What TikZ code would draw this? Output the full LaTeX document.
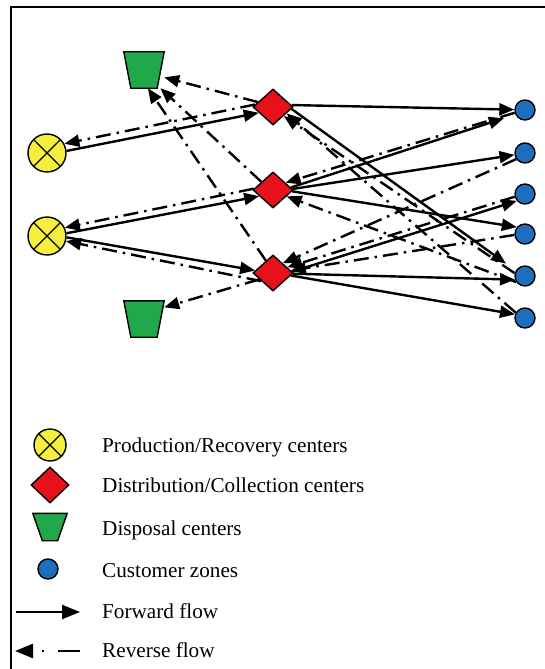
\documentclass[tikz,border=0pt]{standalone}
\usepackage{fontspec}
\setmainfont{Liberation Serif}
\usetikzlibrary{shapes.geometric,arrows.meta,calc}
\definecolor{pyellow}{RGB}{245,238,60}
\definecolor{dred}{RGB}{232,16,26}
\definecolor{tgreen}{RGB}{33,168,74}
\definecolor{cblue}{RGB}{30,110,190}
\newcommand{\trapez}[2]{\draw[line width=1.4pt,fill=tgreen] (#1.north west) -- (#1.north east) -- ($(#1.south east)+(-#2,0)$) -- ($(#1.south west)+(#2,0)$) -- cycle;}
\begin{document}
\begin{tikzpicture}[x=1pt,y=-1pt,
  prod/.style={circle,draw,line width=1.4pt,fill=pyellow,minimum size=38pt,inner sep=0pt,
     path picture={\draw[line width=1.4pt] (path picture bounding box.center) ++(45:30pt) -- ++(225:60pt)
        (path picture bounding box.center) ++(135:30pt) -- ++(315:60pt);}},
  dist/.style={diamond,draw,line width=1.4pt,fill=dred,minimum width=40pt,minimum height=36pt,inner sep=0pt},
  disp/.style={rectangle,minimum width=40pt,minimum height=36pt,inner sep=0pt},
  cust/.style={circle,draw,line width=1.4pt,fill=cblue,minimum size=20pt,inner sep=0pt},
  fwd/.style={line width=2.4pt,-{Triangle[length=15pt,width=12pt]}},
  rev/.style={line width=2.4pt,dash pattern=on 15pt off 6pt on 2.5pt off 6pt,-{Triangle[length=15pt,width=12pt]}},
  lbl/.style={anchor=base west,inner sep=0pt,font=\fontsize{21.2}{25}\selectfont}]
\useasboundingbox (0,0) rectangle (545,669);
\fill[white] (0,0) rectangle (545,669);
\draw[line width=1.6pt] (11,690) -- (11,7) -- (570,7);

% nodes
\node[prod] (P1) at (47,153) {};
\node[prod] (P2) at (47,236) {};
\node[dist] (D1) at (273,107) {};
\node[dist] (D2) at (273,190) {};
\node[dist] (D3) at (273,273) {};
\node[disp] (T1) at (144,70) {};
\node[disp] (T2) at (144,319) {};
\trapez{T1}{7}
\trapez{T2}{7}
\node[cust] (C1) at (525,110) {};
\node[cust] (C2) at (525,153) {};
\node[cust] (C3) at (525,194) {};
\node[cust] (C4) at (525,234) {};
\node[cust] (C5) at (525,276) {};
\node[cust] (C6) at (525,318) {};

% production <-> distribution
\draw[fwd] (P1.6) -- (D1.202);
\draw[rev] (D1.172) -- (P1.28);
\draw[fwd] (P2.8) -- (D2.204);
\draw[rev] (D2.176) -- (P2.25);
\draw[fwd] (P2.-4) -- (D3.172);
\draw[rev] (D3.215) -- (P2.-15);

% collection -> disposal
\draw[rev] (D1.162) -- (T1.-20);
\draw[rev] (D2.145) -- (T1.-48);
\draw[rev] (D3.120) -- (T1.-78);
\draw[rev] (D3.205) -- (T2.30);

% distribution -> customers
\draw[fwd] (D1.6) -- (C1.178);
\draw[fwd,shorten >=12pt] (D1.-6) -- (C5.150);
\draw[fwd,shorten >=12pt] (D2.8) -- (C1.205);
\draw[fwd] (D2.3) -- (C2.190);
\draw[fwd] (D2.-4) -- (C4.140);
\draw[fwd] (D3.4) -- (C3.220);
\draw[fwd] (D3.-2) -- (C5.200);
\draw[fwd] (D3.-8) -- (C6.160);

% customers -> collection
\draw[rev] (C1.195) -- (D2.30);
\draw[rev] (C2.215) -- (D3.45);
\draw[rev] (C3.195) -- (D3.22);
\draw[rev] (C4.185) -- (D3.8);
\draw[rev] (C5.215) -- (D2.-25);
\draw[rev] (C5.165) -- (D1.-40);
\draw[rev] (C6.150) -- (D1.-25);

% legend
\node[prod,minimum size=32pt,path picture={\draw[line width=1.4pt] (path picture bounding box.center) ++(45:25pt) -- ++(225:50pt)
        (path picture bounding box.center) ++(135:25pt) -- ++(315:50pt);}] (LP) at (50,445) {};
\node[dist,minimum width=38pt,minimum height=36pt] (LD) at (50,485) {};
\node[disp,minimum width=34pt,minimum height=27pt] (LT) at (50,527) {};
\trapez{LT}{9.5}
\node[cust] (LC) at (48,569) {};
\coordinate (LFa) at (16,612);
\coordinate (LFb) at (80,612);
\draw[line width=2.4pt,-{Triangle[length=18pt,width=14pt]}] (LFa) -- (LFb);
\coordinate (LRa) at (80,651);
\coordinate (LRb) at (15,651);
\draw[line width=2.4pt,dash pattern=on 22pt off 14pt on 2.5pt off 14pt,-{Triangle[length=18pt,width=14pt]}] (LRa) -- (LRb);

\node[lbl] (t1) at (102,452) {Production/Recovery centers};
\node[lbl] (t2) at (102,492) {Distribution/Collection centers};
\node[lbl] (t3) at (102,535) {Disposal centers};
\node[lbl] (t4) at (102,577) {Customer zones};
\node[lbl] (t5) at (102,618) {Forward flow};
\node[lbl] (t6) at (102,657) {Reverse flow};
\end{tikzpicture}
\end{document}
